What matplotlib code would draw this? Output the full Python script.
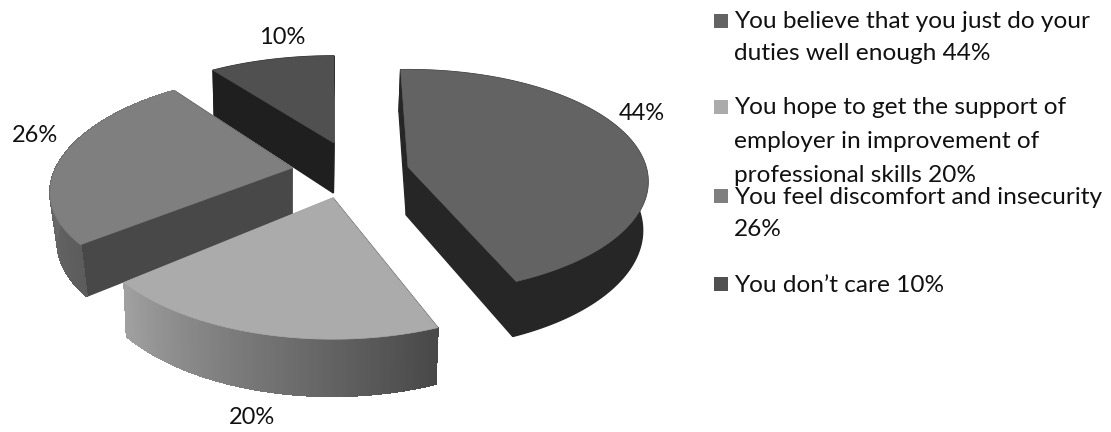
import numpy as np
import matplotlib
matplotlib.use("Agg")
import matplotlib.pyplot as plt
from matplotlib.collections import PolyCollection
from matplotlib.patches import Polygon

# ---- data ----
legend_lines = [
    ["You believe that you just do your", "duties well enough 44%"],
    ["You hope to get the support of", "employer in improvement of", "professional skills 20%"],
    ["You feel discomfort and insecurity", "26%"],
    ["You don\u2019t care 10%"],
]
values = [44, 20, 26, 10]
value_labels = ["44%", "20%", "26%", "10%"]

# ---- style ----
top_colors = ["#636363", "#ababab", "#7f7f7f", "#505050"]
wall_start = ["#262626", "#484848", "#5c5c5c", "#1f1f1f"]
wall_end = ["#262626", "#a0a0a0", "#7c7c7c", "#1f1f1f"]
face_colors = [("#262626", "#262626"), ("#484848", "#a0a0a0"), ("#484848", "#484848"), ("#1f1f1f", "#1f1f1f")]
centers = [(408, 167), (333, 198), (292, 168), (334, 143)]
# k for y, k for x, vertical radius, horizontal radius, rotation (deg), depth, side convergence
shapes = [(0.13, 0.13, 110, 238, -2, 48, 0.015), (0.15, 0.15, 120, 245, 0, 49, 0.015),
          (0.16, 0.22, 108, 236, 0, 47, 0.03), (0.194, 0.194, 104, 238, 0, 50, 0.015)]
label_xy = [(642, 114), (252, 418), (35, 135), (282, 37)]
draw_order = [3, 0, 2, 1]
legend_y = [[22, 54], [108, 142, 175], [197, 230], [285]]
FONT = "Lato"
FS = 17.6
FS_VAL = 17.0

fig = plt.figure(figsize=(11.11, 4.32), dpi=100)
ax = fig.add_axes([0, 0, 1, 1])
ax.set_xlim(0, 1111)
ax.set_ylim(432, 0)
ax.axis("off")


def project(c, shape, ang):
    ky, kx, ry, rx, _, depth, conv = shape
    u, v = np.sin(ang), np.cos(ang)
    top = np.column_stack([c[0] + rx * u / (1 + kx * v), c[1] - ry * v / (1 + ky * v)])
    d = depth / (1 + 0.14 * v)
    bot = np.column_stack([top[:, 0] - (top[:, 0] - 290) * conv, top[:, 1] + d])
    return top, bot


def mix(a, b, t):
    ca, cb = np.array(matplotlib.colors.to_rgb(a)), np.array(matplotlib.colors.to_rgb(b))
    return ca + (cb - ca) * t


edges = np.cumsum([0] + values) / sum(values) * 2 * np.pi
for i in draw_order:
    c = centers[i]
    s = shapes[i]
    rot = np.deg2rad(s[4])
    ang = np.linspace(edges[i] + rot, edges[i + 1] + rot, 120)
    top, bot = project(c, s, ang)
    ctop = np.array([c])
    cbot = np.array([[c[0] - (c[0] - 290) * s[6], c[1] + s[5]]])
    for j, pt, pb in ((0, top[0], bot[0]), (1, top[-1], bot[-1])):
        ax.add_patch(Polygon([ctop[0], pt, pb, cbot[0]], closed=True,
                             fc=face_colors[i][j], ec=face_colors[i][j], lw=1))
    if wall_start[i] == wall_end[i]:
        ax.add_patch(Polygon(np.vstack([top, bot[::-1]]), closed=True,
                             fc=wall_start[i], ec=wall_start[i], lw=1))
    else:
        quads = [[top[k], top[k + 1], bot[k + 1], bot[k]] for k in range(len(ang) - 1)]
        cols = [mix(wall_start[i], wall_end[i], k / (len(quads) - 1)) for k in range(len(quads))]
        ax.add_collection(PolyCollection(quads, facecolors=cols, edgecolors=cols,
                                         linewidths=0.8, antialiaseds=False))
    ax.add_patch(Polygon(np.vstack([ctop, top]), closed=True, fc=top_colors[i], ec=top_colors[i], lw=0.5))
    ax.text(*label_xy[i], value_labels[i], family=FONT, fontsize=FS_VAL, color="#111111", ha="center", va="center")

for i, lines in enumerate(legend_lines):
    ax.scatter([721], [legend_y[i][0] - 1], marker="s", s=115, color=top_colors[i], linewidths=0)
    for y, line in zip(legend_y[i], lines):
        ax.text(734, y, line, family=FONT, fontsize=FS, color="#111111", ha="left", va="center")

fig.savefig("out.png", dpi=100)
